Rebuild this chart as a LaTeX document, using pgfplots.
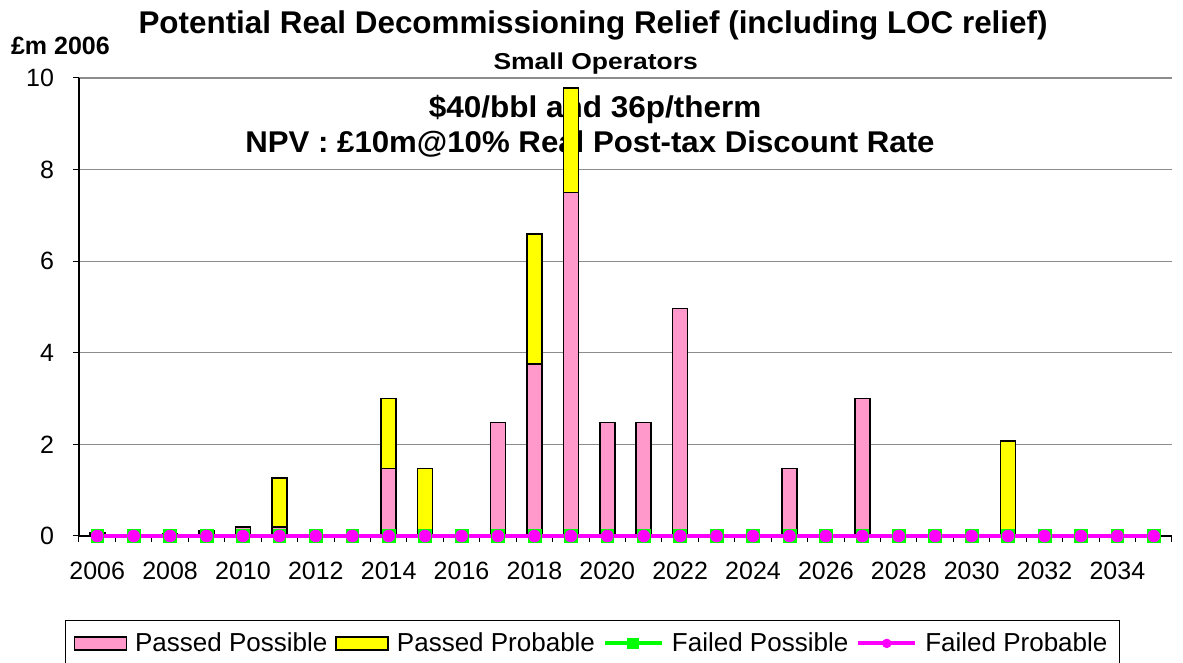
\documentclass[border=0pt]{standalone}
\usepackage{fontspec}
\setmainfont{Liberation Sans}
\usepackage{graphicx}
\usepackage{pgfplots}
\pgfplotsset{compat=1.18}
\definecolor{pinkbar}{HTML}{FF99CC}
\definecolor{yelbar}{HTML}{FFFF00}
\definecolor{lgreen}{HTML}{00FF00}
\definecolor{lmag}{HTML}{FF00FF}
\begin{document}
\begin{tikzpicture}
\begin{axis}[
  name=main,
  scale only axis, width=546.5pt, height=229pt,
  ybar stacked, bar width=7.5pt,
  xmin=2005.5, xmax=2035.5, ymin=0, ymax=10,
  xtick={2006,2008,...,2034},
  minor xtick={2005.5,2006.5,...,2035.5},
  ytick={0,2,...,10},
  major x tick style={draw=none},
  major tick length=3pt, minor tick length=3pt,
  tick align=outside,
  axis x line*=bottom, axis y line*=left,
  axis line style={-, black, line width=0.6pt},
  tick style={black, line width=0.5pt},
  ymajorgrids, grid style={draw=gray!90, line width=0.6pt},
  x tick label style={/pgf/number format/1000 sep={}, yshift=-6.5pt},
  y tick label style={xshift=-6pt},
  /pgf/number format/assume math mode=true,
  tick label style={font=\fontsize{12.5}{14}\selectfont},
  clip=false,
  legend columns=4,
  legend style={at={(0.4698,-0.1834)}, anchor=north, draw=black, line width=0.5pt,
    font=\fontsize{13}{15}\selectfont, inner xsep=4pt, inner ysep=4pt,
    /tikz/every odd column/.append style={column sep=2pt},
    /tikz/every even column/.append style={column sep=2pt}},
]
\addplot[fill=pinkbar, draw=black, line width=0.8pt,
  legend image code/.code={\draw[fill=pinkbar, draw=black, line width=0.8pt] (0pt,-3.3pt) rectangle (26pt,3.3pt);}]
 coordinates {(2006,0.07) (2007,0.02) (2008,0.05) (2009,0.12) (2010,0.2) (2011,0.2) (2012,0) (2013,0) (2014,1.47) (2015,0) (2016,0) (2017,2.48) (2018,3.75) (2019,7.5) (2020,2.48) (2021,2.48) (2022,4.97) (2023,0) (2024,0) (2025,1.47) (2026,0) (2027,3.0) (2028,0) (2029,0) (2030,0) (2031,0) (2032,0) (2033,0) (2034,0) (2035,0)};
\addlegendentry{Passed Possible}
\addplot[fill=yelbar, draw=black, line width=0.8pt,
  legend image code/.code={\draw[fill=yelbar, draw=black, line width=0.8pt] (0pt,-3.3pt) rectangle (26pt,3.3pt);}]
 coordinates {(2006,0) (2007,0) (2008,0) (2009,0) (2010,0) (2011,1.07) (2012,0) (2013,0) (2014,1.53) (2015,1.47) (2016,0) (2017,0) (2018,2.85) (2019,2.28) (2020,0) (2021,0) (2022,0) (2023,0) (2024,0) (2025,0) (2026,0) (2027,0) (2028,0) (2029,0) (2030,0) (2031,2.08) (2032,0) (2033,0) (2034,0) (2035,0)};
\addlegendentry{Passed Probable}
\addlegendimage{legend image code/.code={\draw[color=lgreen, line width=2pt, solid] (0pt,0pt) -- (28.5pt,0pt); \fill[lgreen] (11.5pt,-2.4pt) rectangle (17pt,2.4pt);}}
\addlegendentry{Failed Possible}
\addlegendimage{legend image code/.code={\draw[color=lmag, line width=2pt, solid] (0pt,0pt) -- (28.5pt,0pt); \fill[lmag] (14.25pt,0pt) circle (2.1pt);}}
\addlegendentry{Failed Probable}
\node[font=\bfseries\fontsize{15.7}{18}\selectfont] at (rel axis cs:0.4703,1.1157) {Potential Real Decommissioning Relief (including LOC relief)};
\node[font=\bfseries\fontsize{12.5}{14}\selectfont] at (rel axis cs:-0.017,1.069) {£m 2006};
\node[font=\bfseries\fontsize{11.5}{14}\selectfont] at (rel axis cs:0.4727,1.0306) {\scalebox{1.15}[1]{Small Operators}};
\node[font=\bfseries\fontsize{15}{17}\selectfont] at (rel axis cs:0.4722,0.9323) {\scalebox{1.05}[1]{\$40/bbl and 36p/therm}};
\node[font=\bfseries\fontsize{15}{17}\selectfont] at (rel axis cs:0.4675,0.856) {\scalebox{1.04}[1]{NPV : £10m@10\% Real Post-tax Discount Rate}};
\end{axis}
\begin{axis}[
  scale only axis, width=546.5pt, height=229pt,
  xmin=2005.5, xmax=2035.5, ymin=0, ymax=10,
  hide axis, clip=false,
]
\addplot[color=lgreen, solid, line width=2pt, mark=square*, mark size=3.2pt, mark options={solid, fill=lgreen, draw=lgreen, line width=0.3pt}]
 coordinates {(2006,0) (2007,0) (2008,0) (2009,0) (2010,0) (2011,0) (2012,0) (2013,0) (2014,0) (2015,0) (2016,0) (2017,0) (2018,0) (2019,0) (2020,0) (2021,0) (2022,0) (2023,0) (2024,0) (2025,0) (2026,0) (2027,0) (2028,0) (2029,0) (2030,0) (2031,0) (2032,0) (2033,0) (2034,0) (2035,0)};
\addplot[color=lmag, solid, line width=2pt, mark=*, mark size=3pt, mark options={solid, fill=lmag, draw=lmag, line width=0.3pt}]
 coordinates {(2006,0) (2007,0) (2008,0) (2009,0) (2010,0) (2011,0) (2012,0) (2013,0) (2014,0) (2015,0) (2016,0) (2017,0) (2018,0) (2019,0) (2020,0) (2021,0) (2022,0) (2023,0) (2024,0) (2025,0) (2026,0) (2027,0) (2028,0) (2029,0) (2030,0) (2031,0) (2032,0) (2033,0) (2034,0) (2035,0)};
\end{axis}
\pgfresetboundingbox
\path ([shift={(-39.5pt,-63.5pt)}]main.south west) rectangle ([shift={(5.5pt,39pt)}]main.north east);
\end{tikzpicture}
\end{document}
